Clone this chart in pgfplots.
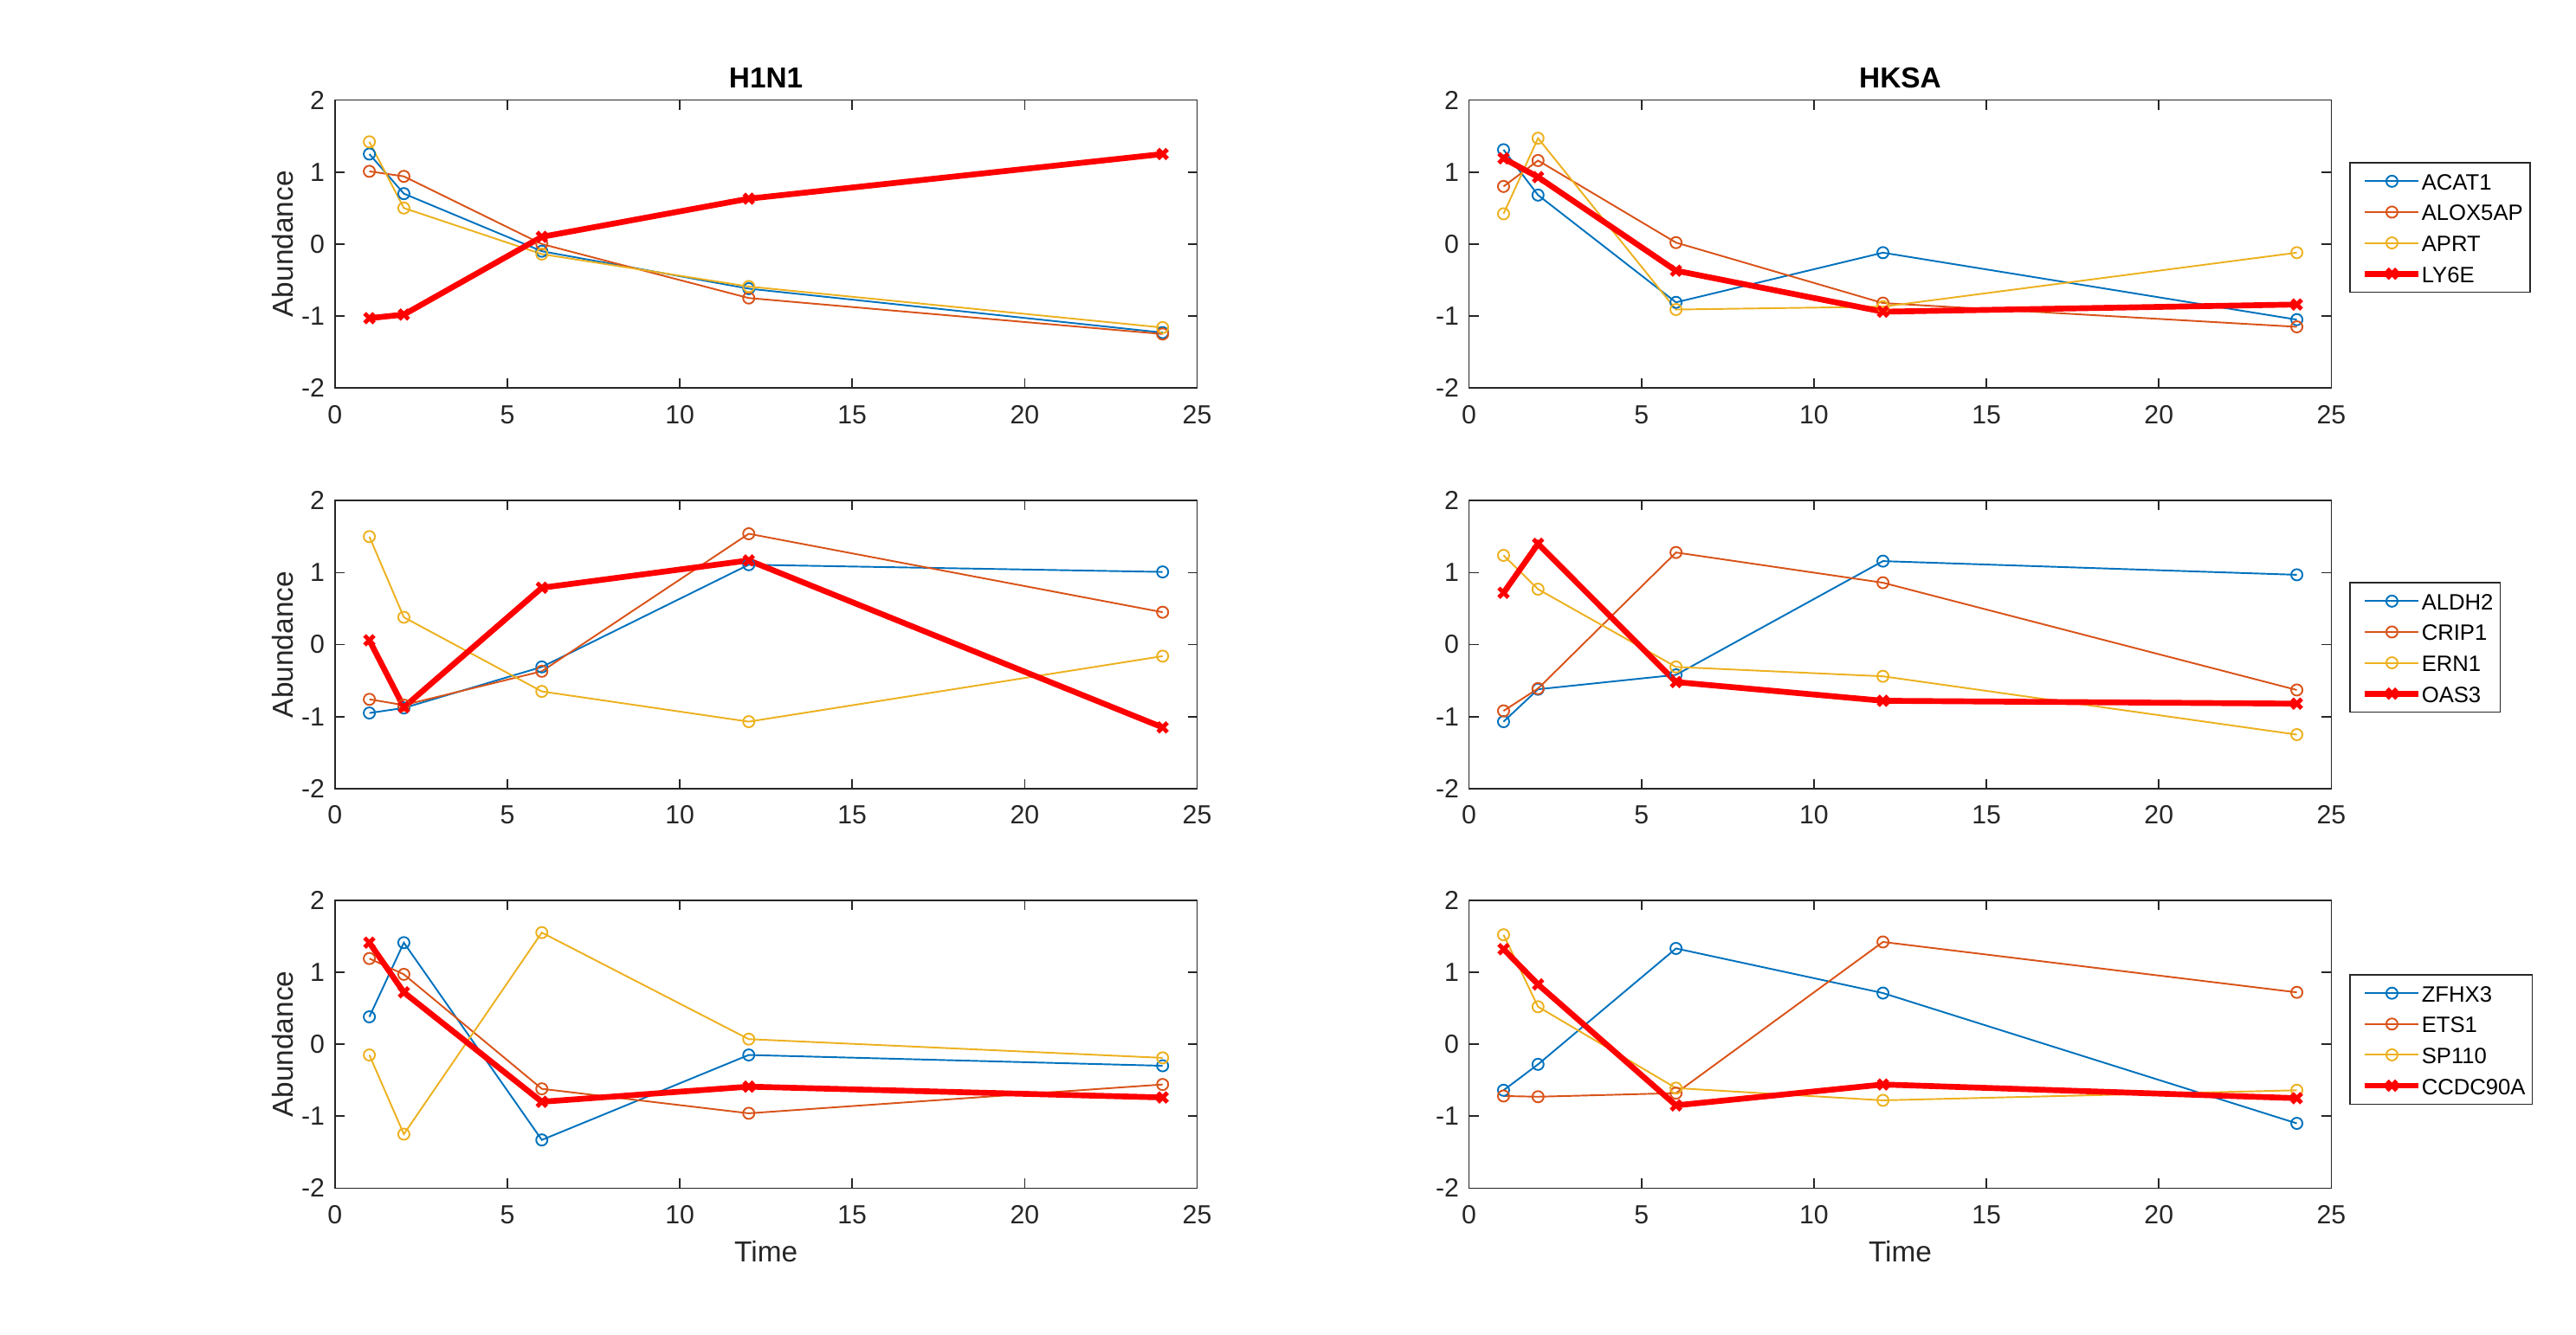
\documentclass[border=0pt]{standalone}
\usepackage{pgfplots}
\pgfplotsset{compat=1.18}
\usepackage{fontspec}
\setmainfont{Liberation Sans}

\definecolor{mblue}{rgb}{0,0.447,0.741}
\definecolor{morange}{rgb}{0.85,0.325,0.098}
\definecolor{myellow}{rgb}{0.929,0.694,0.125}
\definecolor{axgray}{rgb}{0.15,0.15,0.15}

\pgfplotsset{
  panel/.style={
    scale only axis, width=9.958cm, height=3.326cm,
    xmin=0, xmax=25, ymin=-2, ymax=2,
    xtick={0,5,10,15,20,25}, xticklabels={0,5,10,15,20,25},
    ytick={-2,-1,0,1,2}, yticklabels={-2,-1,0,1,2},
    tick align=inside, tick pos=both, major tick length=0.11cm,
    axis line style={axgray, line width=0.45pt},
    tick style={axgray, line width=0.45pt},
    xticklabel style={font=\fontsize{8.6}{10}\selectfont, text=axgray, anchor=base, inner sep=0pt, yshift=-0.41cm},
    yticklabel style={font=\fontsize{8.6}{10}\selectfont, text=axgray, anchor=east, inner sep=0pt, xshift=-0.11cm},
    every axis title/.style={at={(axis description cs:0.5,1)}, anchor=base, yshift=0.136cm, font=\bfseries\fontsize{9.5}{11}\selectfont},
    every axis x label/.style={at={(axis description cs:0.5,0)}, anchor=base, yshift=-0.85cm, font=\fontsize{9.5}{11}\selectfont, text=axgray},
    every axis y label/.style={at={(axis description cs:-0.0602,0.5)}, rotate=90, anchor=center, font=\fontsize{9.5}{11}\selectfont, text=axgray},
    legend style={anchor=north west, draw=axgray, line width=0.45pt, fill=white,
      font=\fontsize{7.3}{8}\selectfont, inner xsep=0.08cm, inner ysep=0.075cm,
      row sep=0.076cm, nodes={inner sep=0pt, text height=0.24cm, text depth=0.04cm},
      /tikz/every even column/.append style={column sep=0.08cm}},
    legend cell align=left,
    legend image code/.code={\path (0cm,0cm);
      \draw[mark repeat=2,mark phase=2,#1] plot coordinates {(0.06cm,0cm) (0.37cm,0cm) (0.68cm,0cm)};},
  },
  gene/.style={color=#1, line width=0.55pt, mark=o, mark size=1.85pt, mark options={solid, line width=0.55pt}},
  hub/.style={color=red, line width=1.9pt, mark=x, mark size=2.2pt, mark options={solid, line width=1.4pt}},
}

\begin{document}
\begin{tikzpicture}
\path[use as bounding box] (0,0) rectangle (29.75cm,15.42cm);

% ---------------- row 1 ----------------
\begin{axis}[panel, at={(3.8675cm,10.938cm)}, anchor=south west, title={H1N1}, ylabel={Abundance}]
\addplot[gene=mblue] coordinates {(1,1.25) (2,0.70) (6,-0.10) (12,-0.62) (24,-1.23)};
\addplot[gene=morange] coordinates {(1,1.01) (2,0.94) (6,0.00) (12,-0.75) (24,-1.25)};
\addplot[gene=myellow] coordinates {(1,1.42) (2,0.50) (6,-0.14) (12,-0.59) (24,-1.16)};
\addplot[hub] coordinates {(1,-1.03) (2,-0.98) (6,0.10) (12,0.63) (24,1.25)};
\end{axis}

\begin{axis}[panel, at={(16.966cm,10.938cm)}, anchor=south west, title={HKSA},
  legend style={at={(1.021,0.785)}}]
\addplot[gene=mblue] coordinates {(1,1.31) (2,0.68) (6,-0.81) (12,-0.12) (24,-1.05)};
\addplot[gene=morange] coordinates {(1,0.80) (2,1.16) (6,0.02) (12,-0.82) (24,-1.15)};
\addplot[gene=myellow] coordinates {(1,0.42) (2,1.47) (6,-0.91) (12,-0.87) (24,-0.12)};
\addplot[hub] coordinates {(1,1.19) (2,0.93) (6,-0.37) (12,-0.94) (24,-0.84)};
\legend{ACAT1,ALOX5AP,APRT,LY6E}
\end{axis}

% ---------------- row 2 ----------------
\begin{axis}[panel, at={(3.8675cm,6.311cm)}, anchor=south west, ylabel={Abundance}]
\addplot[gene=mblue] coordinates {(1,-0.95) (2,-0.88) (6,-0.31) (12,1.11) (24,1.01)};
\addplot[gene=morange] coordinates {(1,-0.76) (2,-0.84) (6,-0.37) (12,1.54) (24,0.45)};
\addplot[gene=myellow] coordinates {(1,1.50) (2,0.38) (6,-0.65) (12,-1.07) (24,-0.16)};
\addplot[hub] coordinates {(1,0.06) (2,-0.87) (6,0.79) (12,1.17) (24,-1.15)};
\end{axis}

\begin{axis}[panel, at={(16.966cm,6.311cm)}, anchor=south west,
  legend style={at={(1.021,0.718)}}]
\addplot[gene=mblue] coordinates {(1,-1.07) (2,-0.62) (6,-0.42) (12,1.16) (24,0.97)};
\addplot[gene=morange] coordinates {(1,-0.92) (2,-0.61) (6,1.28) (12,0.86) (24,-0.63)};
\addplot[gene=myellow] coordinates {(1,1.24) (2,0.77) (6,-0.31) (12,-0.44) (24,-1.25)};
\addplot[hub] coordinates {(1,0.72) (2,1.40) (6,-0.52) (12,-0.78) (24,-0.82)};
\legend{ALDH2,CRIP1,ERN1,OAS3}
\end{axis}

% ---------------- row 3 ----------------
\begin{axis}[panel, at={(3.8675cm,1.696cm)}, anchor=south west, ylabel={Abundance}, xlabel={Time}]
\addplot[gene=mblue] coordinates {(1,0.38) (2,1.41) (6,-1.33) (12,-0.15) (24,-0.30)};
\addplot[gene=morange] coordinates {(1,1.19) (2,0.97) (6,-0.62) (12,-0.96) (24,-0.56)};
\addplot[gene=myellow] coordinates {(1,-0.15) (2,-1.25) (6,1.55) (12,0.07) (24,-0.19)};
\addplot[hub] coordinates {(1,1.41) (2,0.72) (6,-0.80) (12,-0.59) (24,-0.74)};
\end{axis}

\begin{axis}[panel, at={(16.966cm,1.696cm)}, anchor=south west, xlabel={Time},
  legend style={at={(1.021,0.744)}}]
\addplot[gene=mblue] coordinates {(1,-0.64) (2,-0.28) (6,1.33) (12,0.71) (24,-1.10)};
\addplot[gene=morange] coordinates {(1,-0.72) (2,-0.73) (6,-0.68) (12,1.42) (24,0.72)};
\addplot[gene=myellow] coordinates {(1,1.52) (2,0.52) (6,-0.61) (12,-0.78) (24,-0.64)};
\addplot[hub] coordinates {(1,1.32) (2,0.83) (6,-0.85) (12,-0.56) (24,-0.75)};
\legend{ZFHX3,ETS1,SP110,CCDC90A}
\end{axis}
\end{tikzpicture}
\end{document}
